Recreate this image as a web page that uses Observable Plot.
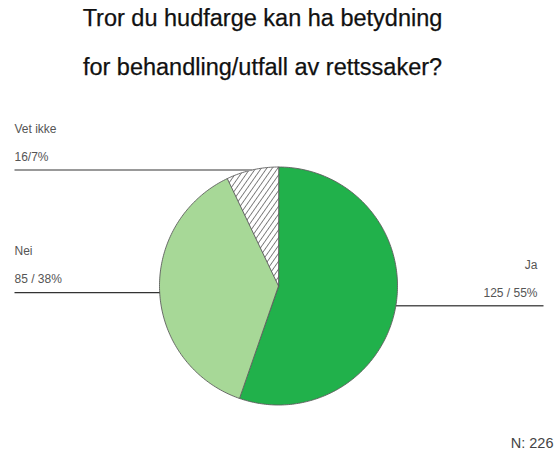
<!DOCTYPE html>
<html><head><meta charset="utf-8">
<script src="https://cdn.jsdelivr.net/npm/d3@7"></script>
<script src="https://cdn.jsdelivr.net/npm/@observablehq/plot@0.6"></script>
<style>
body{margin:0;background:#fff;width:555px;height:456px;overflow:hidden;font-family:"Liberation Sans",Arial,sans-serif;}
#title{position:relative;height:100px;overflow:hidden;}
#title div{position:absolute;left:0;width:525px;text-align:center;font-size:23.5px;line-height:49px;color:#111;top:-6px;-webkit-text-stroke:0.25px #111;}
#chart svg{display:block;}
</style></head><body>
<div id="title"><div>Tror du hudfarge kan ha betydning<br>for behandling/utfall av rettssaker?</div></div>
<div id="chart"></div>
<script>
// ---- data ----
const categories = ["Ja", "Nei", "Vet ikke"];
const counts = [125, 85, 16];
const valueLabels = ["125 / 55%", "85 / 38%", "16/7%"];
const sliceFills = ["#21b14b", "#a7d897", "url(#hatch)"];
const leaderStrokes = ["#555", "#333", "#999"];
const leaderWidths = [1.5, 1.2, 2];
const total = d3.sum(counts);

// ---- layout ----
const W = 555, H = 356, cx = 278, cy = 185.5, R = 119;
const leftEdge = -(cx - 14) / R, rightEdge = (543 - cx) / R, rightText = (537 - cx) / R;

const arcs = d3.pie().sort(null).value(d => d)(counts);
const slices = arcs.map((a, i) => {
  const n = Math.max(2, Math.ceil((a.endAngle - a.startAngle) / (Math.PI / 180)) + 1);
  const pts = [{x: 0, y: 0}];
  for (let k = 0; k < n; k++) {
    const t = a.startAngle + (a.endAngle - a.startAngle) * k / (n - 1);
    pts.push({x: Math.sin(t), y: Math.cos(t)});
  }
  return pts;
});
const leaders = arcs.map((a, i) => {
  const m = (a.startAngle + a.endAngle) / 2;
  const x = Math.sin(m), y = Math.cos(m);
  const left = x < 0;
  return {cat: categories[i], value: valueLabels[i], x1: x, y1: y, x2: left ? leftEdge : rightEdge,
    tx: left ? leftEdge : rightText, anchor: left ? "start" : "end", i};
});

const marks = [];
slices.forEach((pts, i) => {
  marks.push(Plot.line(pts, {x: "x", y: "y", fill: sliceFills[i], stroke: "#5e5e5e", strokeWidth: 0.9, curve: "linear-closed"}));
});
leaders.forEach((d, i) => {
  marks.push(Plot.link([d], {x1: "x1", y1: "y1", x2: "x2", y2: "y1", stroke: leaderStrokes[i], strokeWidth: leaderWidths[i]}));
  marks.push(Plot.text([d], {x: "tx", y: "y1", text: "cat", textAnchor: d.anchor, dy: -41, fontSize: 12, fill: "#555"}));
  marks.push(Plot.text([d], {x: "tx", y: "y1", text: "value", textAnchor: d.anchor, dy: -13, fontSize: 12, fill: "#555"}));
});
marks.push(Plot.text([`N: ${total}`], {frameAnchor: "bottom-right", dx: -2, dy: -9, fontSize: 14.5, fill: "#444"}));

const chart = Plot.plot({
  width: W, height: H,
  marginTop: 0, marginRight: 0, marginBottom: 0, marginLeft: 0,
  x: {domain: [-cx / R, (W - cx) / R], range: [0, W], axis: null},
  y: {domain: [-(H - cy) / R, cy / R], range: [H, 0], axis: null},
  style: {fontFamily: "'Liberation Sans', Arial, sans-serif", background: "#fff"},
  marks
});
const ns = "http://www.w3.org/2000/svg";
const defs = document.createElementNS(ns, "defs");
defs.innerHTML = `<pattern id="hatch" patternUnits="userSpaceOnUse" width="4.5" height="4.5" patternTransform="rotate(35)">
<rect width="4.5" height="4.5" fill="#fff"/><line x1="0" y1="0" x2="0" y2="4.5" stroke="#222" stroke-width="1.1"/></pattern>`;
chart.insertBefore(defs, chart.firstChild);
document.getElementById("chart").appendChild(chart);
</script>
</body></html>
